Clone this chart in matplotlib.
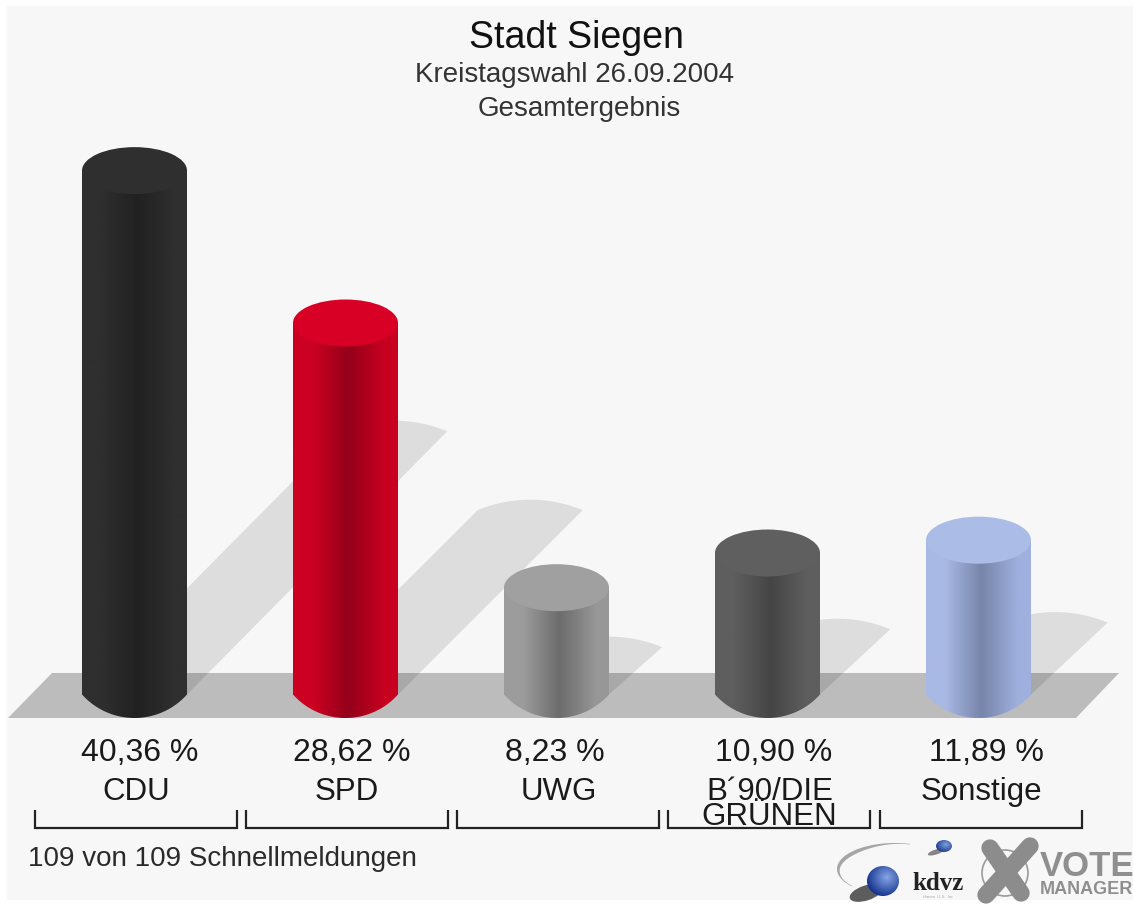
import numpy as np
import matplotlib
matplotlib.use("Agg")
import matplotlib.pyplot as plt
from matplotlib.colors import LinearSegmentedColormap
from matplotlib.patches import Ellipse, PathPatch, Polygon, Circle, Rectangle
from matplotlib.path import Path

parties = ["CDU", "SPD", "UWG", "B´90/DIE\nGRÜNEN", "Sonstige"]
values = [40.36, 28.62, 8.23, 10.90, 11.89]
value_labels = ["40,36 %", "28,62 %", "8,23 %", "10,90 %", "11,89 %"]
title = "Stadt Siegen"
subtitle = "Kreistagswahl 26.09.2004"
subtitle2 = "Gesamtergebnis"
footer = "109 von 109 Schnellmeldungen"

edge_colors = ["#2f2f2f", "#cc0022", "#9c9c9c", "#5e5e5e", "#a9b9e5"]
mid_colors = ["#212121", "#94001a", "#6c6c6c", "#454545", "#7885aa"]
right_colors = ["#2f2f2f", "#c80020", "#979797", "#5e5e5e", "#9fb0de"]
cap_colors = ["#2f2f2f", "#d90025", "#a0a0a0", "#5f5f5f", "#abbce6"]

W, H = 1133, 906
FONT = "Liberation Sans"
CX0, STEP = 134.5, 211.0      # pixel centre of first bar, spacing
Y0, SCALE = 694.5, 12.98      # pixel of value 0, pixels per percent
HALF_W, RY = 52.5, 23.5       # cylinder half-width and ellipse half-height

fig = plt.figure(figsize=(W / 100, H / 100), dpi=100, facecolor="white")

# pixel-space layer for background, floor
bg = fig.add_axes([0, 0, 1, 1], zorder=0)
bg.set_xlim(0, W); bg.set_ylim(H, 0); bg.axis("off")
bg.add_patch(Rectangle((7, 6), W - 7, 894, fc="#f7f7f7", ec="none"))
bg.add_patch(Polygon([(52, 673), (1119, 673), (1076, 718), (8, 718)], fc="#bcbcbc", ec="none"))

# data layer: x = category index, y = percent
ax = fig.add_axes([0, 0, 1, 1], zorder=1)
ax.patch.set_alpha(0)
ax.axis("off")
xlim = (-CX0 / STEP, (W - CX0) / STEP)
ylim = ((Y0 - H) / SCALE, Y0 / SCALE)
rx, ry = HALF_W / STEP, RY / SCALE

SH_DX = 6.45 / STEP           # shadow slant per percent, x
SH_DY = 6.72 / SCALE          # shadow slant per percent, y
SH_OFF = -8.0 / SCALE


def lens(u, sag):
    """Circular-arc profile over u in [-1, 1] (in half-widths), height sag at u=0, in pixels."""
    R = (HALF_W ** 2 + sag ** 2) / (2 * sag)
    return np.sqrt(R ** 2 - (u * HALF_W) ** 2) - (R - sag)


u = np.linspace(-1, 1, 80)
for i, v in enumerate(values):
    # shadow
    dx = SH_DX * v
    tip = v * SH_DY + SH_OFF
    arc_x = i + dx + rx * u
    arc_y = tip + lens(u, 10.5) / SCALE
    verts = [(i - rx, 0)] + list(zip(arc_x, arc_y)) + [(i + rx, 0)]
    ax.add_patch(Polygon(verts, fc="black", alpha=0.10, ec="none", zorder=1))

for i, v in enumerate(values):
    # cylinder body with horizontal shading
    lx = np.r_[i - rx, i + rx * u, i + rx]
    ly = np.r_[v, -lens(u, RY) / SCALE, v]
    path = Path(np.c_[lx, ly])
    cmap = LinearSegmentedColormap.from_list(
        "c", [(0, edge_colors[i]), (0.18, edge_colors[i]), (0.53, mid_colors[i]),
              (0.88, right_colors[i]), (1, right_colors[i])])
    grad = np.linspace(0, 1, 256)[None, :]
    im = ax.imshow(grad, cmap=cmap, extent=(i - rx, i + rx, -ry, v), aspect="auto",
                   zorder=2, interpolation="bilinear")
    patch = PathPatch(path, fc="none", ec="none", transform=ax.transData)
    ax.add_patch(patch)
    im.set_clip_path(patch)
    ax.add_patch(Ellipse((i, v), 2 * rx, 2 * ry, fc=cap_colors[i], ec="none", zorder=3))
ax.set_xlim(xlim); ax.set_ylim(ylim)

# pixel-space layer for texts, brackets, logos
fg = fig.add_axes([0, 0, 1, 1], zorder=2)
fg.patch.set_alpha(0)
fg.set_xlim(0, W); fg.set_ylim(H, 0); fg.axis("off")


def txt(x, y, s, size, color="#1a1a1a", **kw):
    kw.setdefault("ha", "center")
    return fg.text(x, y, s, fontsize=size, color=color, family=FONT, va="top", **kw)


txt(576.5, 20, title, 27, "#111111")
txt(574.5, 62, subtitle, 20, "#333333")
txt(579.5, 96.5, subtitle2, 20, "#333333")

value_x = [140, 352, 555, 774, 986]
label_x = [136.5, 346.5, 559, 769.5, 981]
for x, s in zip(value_x, value_labels):
    txt(x, 738, s, 23)
for x, s in zip(label_x, parties):
    txt(x, 777, s, 22.5, linespacing=0.80, multialignment="center")
txt(28, 846, footer, 20, "#2a2a2a", ha="left")

bracket_left = [35, 246, 457, 668, 880]
for x in bracket_left:
    fg.plot([x, x, x + 202, x + 202], [810, 828, 828, 810], color="#222222", lw=1.6,
            solid_joinstyle="miter", solid_capstyle="butt", zorder=3)


# logos
def ball(cx, cy, rxx, ryy, c_hi, c_lo):
    yy, xx = np.mgrid[-1:1:80j, -1:1:80j]
    d = np.clip(np.hypot(xx - 0.25, yy + 0.25) / 1.3, 0, 1)
    cm = LinearSegmentedColormap.from_list("b", [c_hi, c_lo])
    im = fg.imshow(d, cmap=cm, vmin=0, vmax=1, extent=(cx - rxx, cx + rxx, cy + ryy, cy - ryy),
                   aspect="auto", zorder=4)
    e = Ellipse((cx, cy), 2 * rxx, 2 * ryy, fc="none", ec="none")
    fg.add_patch(e)
    im.set_clip_path(e)


# swoosh as a crescent
a = np.linspace(np.radians(75), np.radians(222), 70)
thick = 0.6 + 3.6 * np.sin(np.linspace(0, np.pi, 70)) ** 2
outer = np.c_[895 + 58 * np.cos(a), 869 - 26 * np.sin(a)]
inner = np.c_[895 + (58 - thick) * np.cos(a), 869 - (26 - thick) * np.sin(a)]
fg.add_patch(Polygon(np.r_[outer, inner[::-1]], fc="#a6a6a6", ec="none", zorder=3))
fg.add_patch(Ellipse((936, 852), 17, 5, angle=-18, fc="#555555", ec="none", alpha=0.7, zorder=3))
ball(944, 846, 8, 6, "#7f9fe0", "#1f3f90")
fg.add_patch(Ellipse((866, 893), 34, 15, angle=-18, fc="#2a2a2a", ec="none", alpha=0.75, zorder=3))
ball(883, 881, 16, 15, "#86a6e6", "#16338e")
fg.text(938, 884, "kdvz", fontsize=18, fontweight="bold", family="Liberation Serif", color="#222222",
        ha="center", va="center", zorder=5)
fg.text(938, 897, "Hamm  U.S.  Inc", fontsize=3, family=FONT, color="#aaaaaa", ha="center", va="center", zorder=5)

fg.add_patch(Circle((1005, 873), 23, fc="none", ec="#9a9a9a", lw=1.2, zorder=3))
fg.plot([990, 1021], [848, 893], color="#8c8c8c", lw=12.5, solid_capstyle="round", zorder=4)
fg.plot([1030, 986], [846, 895], color="#8c8c8c", lw=12.5, solid_capstyle="round", zorder=4)
fg.text(1040, 866, "VOTE", fontsize=25, fontweight="bold", family=FONT, color="#8f8f8f",
        ha="left", va="center", zorder=5)
fg.text(1040, 889, "MANAGER", fontsize=13, fontweight="bold", family=FONT, color="#8f8f8f",
        ha="left", va="center", zorder=5)
fg.set_xlim(0, W); fg.set_ylim(H, 0)

fig.savefig("out.png", dpi=100, facecolor="white")
